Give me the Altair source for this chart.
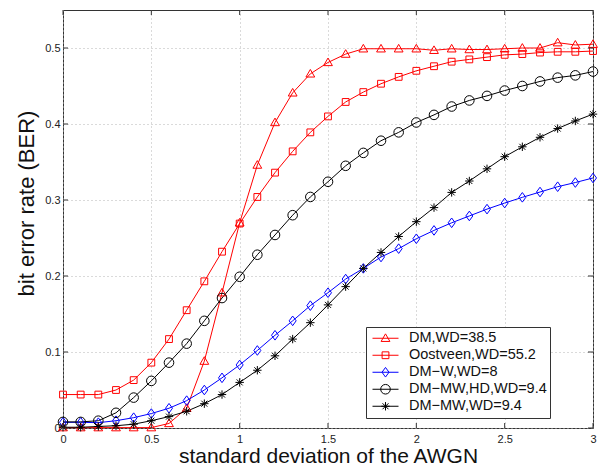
import altair as alt
import pandas as pd

# noise standard deviation (x axis)
sigma = [0.0, 0.1, 0.2, 0.3, 0.4, 0.5, 0.6, 0.7, 0.8, 0.9, 1.0,
         1.1, 1.2, 1.3, 1.4, 1.5, 1.6, 1.7, 1.8, 1.9, 2.0,
         2.1, 2.2, 2.3, 2.4, 2.5, 2.6, 2.7, 2.8, 2.9, 3.0]

series_names = ["DM,WD=38.5", "Oostveen,WD=55.2", "DM\u2212W,WD=8",
                "DM\u2212MW,HD,WD=9.4", "DM\u2212MW,WD=9.4"]
series_colors = ["#ff0000", "#ff0000", "#0000ff", "#000000", "#000000"]
series_markers = ["tri", "sq", "dia", "circ", "star"]

ber_dm = [0.0005, 0.0005, 0.0005, 0.0005, 0.0005, 0.0005, 0.006, 0.026, 0.088, 0.178, 0.270,
          0.346, 0.402, 0.441, 0.466, 0.481, 0.492, 0.499, 0.499, 0.499, 0.499,
          0.497, 0.499, 0.498, 0.498, 0.499, 0.500, 0.500, 0.507, 0.504, 0.505]
ber_oostveen = [0.044, 0.044, 0.044, 0.050, 0.063, 0.086, 0.117, 0.155, 0.193, 0.232, 0.269,
                0.304, 0.336, 0.364, 0.389, 0.410, 0.429, 0.442, 0.453, 0.462, 0.470,
                0.476, 0.482, 0.485, 0.488, 0.491, 0.492, 0.494, 0.495, 0.495, 0.496]
ber_dm_w = [0.0075, 0.0075, 0.007, 0.0096, 0.0136, 0.019, 0.026, 0.036, 0.050, 0.066, 0.083,
            0.102, 0.122, 0.141, 0.161, 0.178, 0.196, 0.210, 0.225, 0.236, 0.249,
            0.260, 0.270, 0.279, 0.288, 0.296, 0.3035, 0.3105, 0.3175, 0.323, 0.329]
ber_dm_mw_hd = [0.008, 0.008, 0.0096, 0.020, 0.040, 0.062, 0.086, 0.111, 0.141, 0.171, 0.199,
                0.228, 0.254, 0.280, 0.304, 0.324, 0.345, 0.362, 0.378, 0.389, 0.402,
                0.412, 0.423, 0.431, 0.437, 0.444, 0.450, 0.456, 0.461, 0.464, 0.469]
ber_dm_mw = [0.001, 0.001, 0.002, 0.003, 0.005, 0.0096, 0.015, 0.022, 0.032, 0.044, 0.060,
             0.076, 0.095, 0.117, 0.1386, 0.162, 0.186, 0.210, 0.231, 0.252, 0.2715,
             0.290, 0.310, 0.325, 0.341, 0.357, 0.370, 0.3825, 0.394, 0.404, 0.413]

x_ticks = [0, 0.5, 1, 1.5, 2, 2.5, 3]
y_ticks = [0, 0.1, 0.2, 0.3, 0.4, 0.5]

W, H = 530, 418
FONT = "Liberation Sans"

rows = []
for name, vals in zip(series_names,
                      [ber_dm, ber_oostveen, ber_dm_w, ber_dm_mw_hd, ber_dm_mw]):
    for s, v in zip(sigma, vals):
        rows.append({"sigma": s, "ber": v, "series": name})
df = pd.DataFrame(rows)


def _f(v):
    s = f"{v:.4f}".rstrip("0").rstrip(".")
    return "0" if s in ("-0", "") else s


def _poly(pts, u):
    return "M" + "L".join(f"{_f(x / u)},{_f(y / u)}" for x, y in pts) + "Z"


def marker_path(kind, u):
    """Marker outline in pixels, expressed in symbol units of u pixels."""
    if kind == "tri":
        return _poly([(0, -4.4), (4.4, 3.2), (-4.4, 3.2)], u)
    if kind == "sq":
        return _poly([(-3.4, -3.4), (3.4, -3.4), (3.4, 3.4), (-3.4, 3.4)], u)
    if kind == "dia":
        return _poly([(0, -4.8), (3.5, 0), (0, 4.8), (-3.5, 0)], u)
    if kind == "circ":
        r = _f(4.8 / u)
        return f"M{r},0A{r},{r},0,1,1,-{r},0A{r},{r},0,1,1,{r},0Z"
    a, d = _f(4.2 / u), _f(3.0 / u)
    return (f"M-{a},0L{a},0M0,-{a}L0,{a}"
            f"M-{d},-{d}L{d},{d}M-{d},{d}L{d},-{d}")


PLOT_SIZE = 100          # symbol unit = 5 px
LEG_SIZE = 676           # symbol unit = 13 px
plot_shapes = [marker_path(k, 5) for k in series_markers]
legend_shapes = ["M-1,0L1,0" + marker_path(k, 13) for k in series_markers]

xscale = alt.Scale(domain=[0, 3], nice=False, zero=False)
yscale = alt.Scale(domain=[0, 0.55], nice=False)
cscale = alt.Scale(domain=series_names, range=series_colors)

x_axis = alt.Axis(title="standard deviation of the AWGN", values=x_ticks, format="~g")
y_axis = alt.Axis(title="bit error rate (BER)", values=y_ticks, format="~g", titleY=193)
x_enc = alt.X("sigma:Q", scale=xscale, axis=x_axis)
y_enc = alt.Y("ber:Q", scale=yscale, axis=y_axis)

base = alt.Chart(df)

lines = base.mark_line(strokeWidth=1).encode(
    x=x_enc, y=y_enc,
    color=alt.Color("series:N", scale=cscale, legend=None),
    detail="series:N",
)
points = base.mark_point(filled=False, size=PLOT_SIZE, strokeWidth=1, opacity=1).encode(
    x=x_enc, y=y_enc,
    color=alt.Color("series:N", scale=cscale, legend=None),
    shape=alt.Shape("series:N", scale=alt.Scale(domain=series_names, range=plot_shapes),
                    legend=None),
)
curves = alt.layer(lines, points)

legend_layer = base.transform_filter("false").mark_point(
    filled=False, strokeWidth=1, opacity=1
).encode(
    x=x_enc, y=y_enc,
    color=alt.Color("series:N", scale=alt.Scale(domain=series_names, range=series_colors),
                    legend=alt.Legend(title=None)),
    shape=alt.Shape("series:N", scale=alt.Scale(domain=series_names, range=legend_shapes),
                    legend=alt.Legend(title=None)),
)

# inward tick marks on all four sides of the box
xt = alt.Chart(pd.DataFrame({"sigma": x_ticks}))
yt = alt.Chart(pd.DataFrame({"ber": y_ticks}))
tick_style = dict(color="#333333", strokeWidth=1)
ticks = alt.layer(
    xt.mark_rule(**tick_style).encode(x=x_enc, y=alt.value(H), y2=alt.value(H - 5)),
    xt.mark_rule(**tick_style).encode(x=x_enc, y=alt.value(0), y2=alt.value(5)),
    yt.mark_rule(**tick_style).encode(y=y_enc, x=alt.value(0), x2=alt.value(5)),
    yt.mark_rule(**tick_style).encode(y=y_enc, x=alt.value(W), x2=alt.value(W - 5)),
)

chart = alt.layer(curves, ticks, legend_layer).resolve_scale(
    color="independent", shape="independent"
).properties(
    width=W, height=H,
    autosize=alt.AutoSizeParams(type="none"),
    padding={"left": 63, "top": 10, "right": 23, "bottom": 38},
    background="white",
).configure_view(
    stroke="#333333", strokeWidth=1
).configure_axis(
    domain=False, ticks=False, grid=True,
    gridColor="#b4b4b4", gridDash=[1, 3], gridWidth=1,
    labelFont=FONT, labelFontSize=11, labelColor="#222222",
    titleFont=FONT, titleFontWeight="normal", titleColor="#111111",
    labelFlush=False,
).configure_axisX(
    labelPadding=5, titleFontSize=21, titlePadding=1,
).configure_axisY(
    labelPadding=3, titleFontSize=22, titlePadding=6,
).configure_legend(
    orient="none", legendX=303, legendY=317,
    strokeColor="#333333", fillColor="white", padding=3, cornerRadius=0,
    labelFont=FONT, labelFontSize=14.5, labelColor="#111111", labelOffset=10,
    labelLimit=400, symbolSize=LEG_SIZE, symbolStrokeWidth=1,
    clipHeight=16.5, rowPadding=0, symbolOffset=3,
)

chart.save("out.html", embed_options={"renderer": "svg", "actions": False})
